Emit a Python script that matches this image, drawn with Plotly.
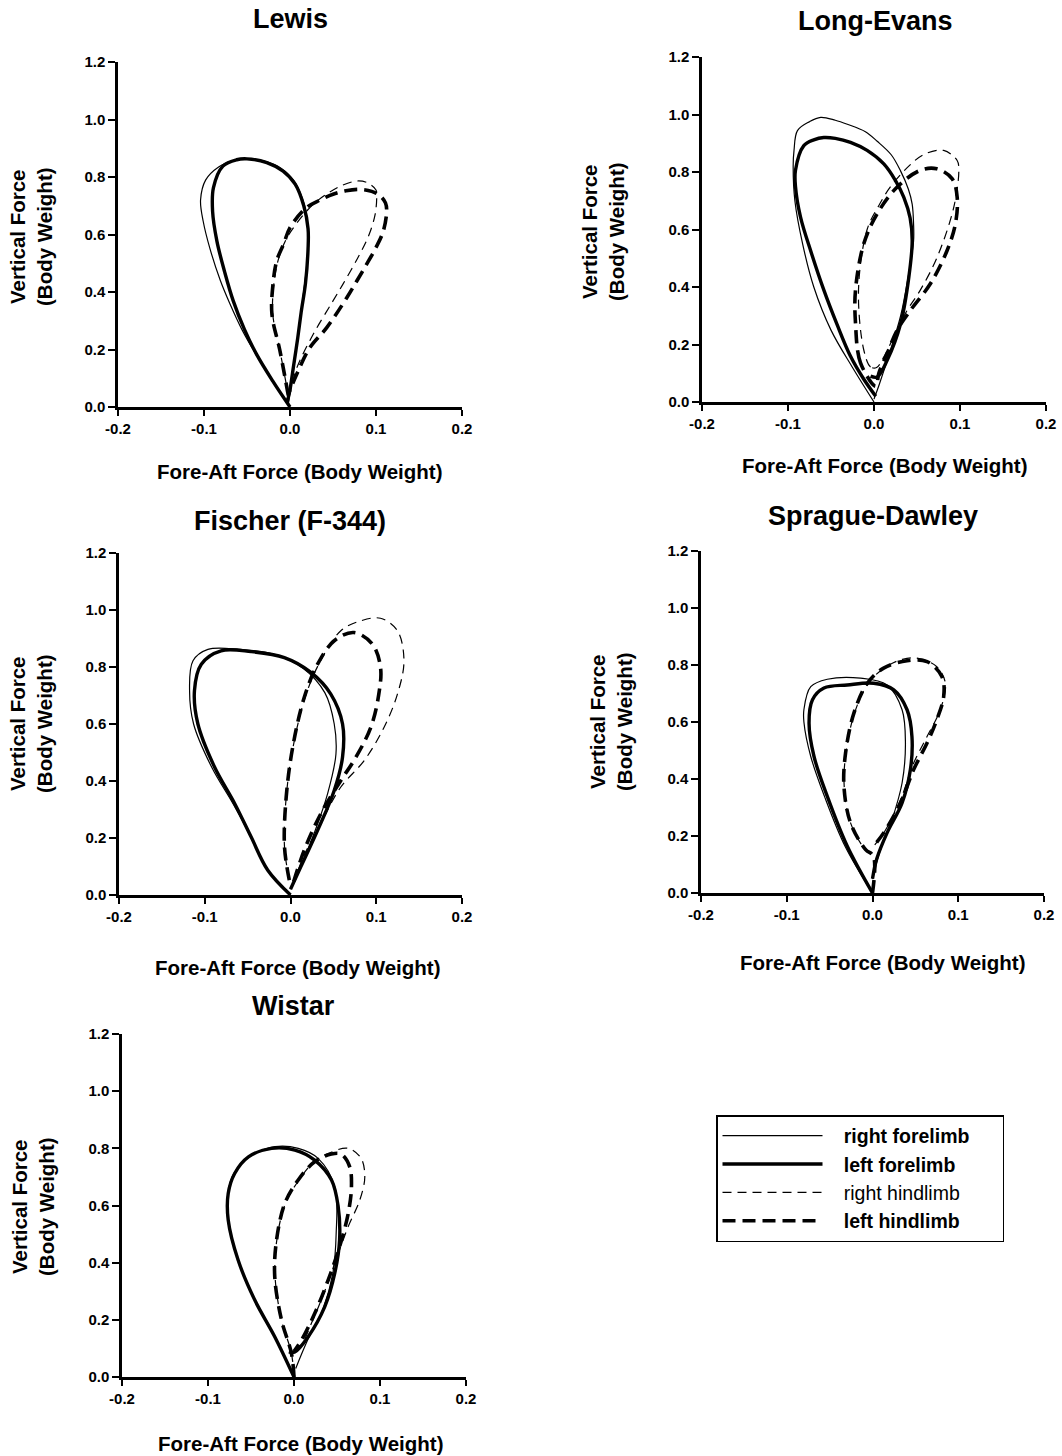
import plotly.graph_objects as go

W, H = 1062, 1456

strains = ["Lewis", "Long-Evans", "Fischer (F-344)", "Sprague-Dawley", "Wistar"]
x_ticks = [-0.2, -0.1, 0.0, 0.1, 0.2]
x_tick_labels = ["-0.2", "-0.1", "0.0", "0.1", "0.2"]
y_ticks = [0.0, 0.2, 0.4, 0.6, 0.8, 1.0, 1.2]
y_tick_labels = ["0.0", "0.2", "0.4", "0.6", "0.8", "1.0", "1.2"]
limb_names = ["right forelimb", "left forelimb", "right hindlimb", "left hindlimb"]

# ---------------- Lewis ----------------
lewis_rf_x = [0.0, -0.02, -0.04, -0.056, -0.07, -0.081, -0.093, -0.101, -0.104, -0.098, -0.083, -0.065, -0.05, -0.03, -0.01, 0.005, 0.015, 0.02, 0.021, 0.019, 0.015, 0.01, 0.005, 0.0, -0.002]
lewis_rf_y = [0.0, 0.09, 0.185, 0.27, 0.36, 0.44, 0.55, 0.647, 0.72, 0.79, 0.835, 0.858, 0.863, 0.855, 0.83, 0.785, 0.72, 0.65, 0.577, 0.48, 0.38, 0.26, 0.15, 0.05, 0.01]
lewis_lf_x = [0.0, -0.02, -0.039, -0.053, -0.066, -0.076, -0.085, -0.09, -0.089, -0.078, -0.062, -0.05, -0.027, -0.008, 0.006, 0.016, 0.021, 0.021, 0.018, 0.013, 0.009, 0.004, 0.0, -0.003]
lewis_lf_y = [0.0, 0.09, 0.184, 0.27, 0.369, 0.47, 0.577, 0.68, 0.763, 0.838, 0.86, 0.863, 0.85, 0.82, 0.775, 0.7, 0.62, 0.55, 0.43, 0.33, 0.24, 0.14, 0.06, 0.02]
lewis_rh_x = [-0.002, -0.005, -0.012, -0.02, -0.019, -0.014, -0.005, 0.008, 0.027, 0.045, 0.06, 0.0775, 0.09, 0.1, 0.1008, 0.099, 0.092, 0.081, 0.066, 0.05, 0.027, 0.008, -0.002]
lewis_rh_y = [0.04, 0.09, 0.2, 0.322, 0.42, 0.508, 0.58, 0.64, 0.705, 0.745, 0.77, 0.786, 0.78, 0.755, 0.734, 0.67, 0.6, 0.531, 0.45, 0.369, 0.253, 0.137, 0.04]
lewis_lh_x = [-0.002, -0.005, -0.012, -0.021, -0.02, -0.0155, -0.007, 0.0, 0.019, 0.035, 0.05, 0.065, 0.081, 0.095, 0.105, 0.111, 0.1124, 0.1085, 0.1, 0.089, 0.078, 0.066, 0.0427, 0.023, 0.0078, -0.002]
lewis_lh_y = [0.04, 0.09, 0.2, 0.322, 0.42, 0.508, 0.57, 0.624, 0.693, 0.72, 0.74, 0.752, 0.757, 0.75, 0.734, 0.71, 0.682, 0.612, 0.555, 0.496, 0.44, 0.38, 0.276, 0.206, 0.114, 0.044]

# ---------------- Long-Evans ----------------
le_rf_x = [0.0, -0.025, -0.05, -0.07, -0.083, -0.092, -0.094, -0.093, -0.089, -0.075, -0.062, -0.045, -0.031, -0.01, 0.0037, 0.02, 0.031, 0.04, 0.0444, 0.046, 0.046, 0.04, 0.031, 0.018, 0.006, 0.0]
le_rf_y = [0.0, 0.12, 0.25, 0.4, 0.55, 0.7, 0.82, 0.875, 0.944, 0.975, 0.99, 0.98, 0.966, 0.94, 0.907, 0.86, 0.803, 0.74, 0.688, 0.62, 0.56, 0.44, 0.3, 0.17, 0.06, 0.01]
le_lf_x = [0.002, -0.012, -0.0273, -0.043, -0.0584, -0.073, -0.0855, -0.0913, -0.0913, -0.0816, -0.07, -0.0584, -0.045, -0.0273, -0.008, 0.0114, 0.025, 0.0347, 0.042, 0.0444, 0.0405, 0.031, 0.0153, 0.0037, -0.004]
le_lf_y = [0.02, 0.08, 0.159, 0.27, 0.39, 0.52, 0.644, 0.75, 0.806, 0.892, 0.912, 0.92, 0.917, 0.903, 0.875, 0.828, 0.77, 0.712, 0.64, 0.562, 0.434, 0.273, 0.145, 0.087, 0.09]
le_rh_x = [0.003, -0.004, -0.0118, -0.018, -0.008, 0.005, 0.019, 0.0386, 0.058, 0.081, 0.0967, 0.0986, 0.0928, 0.0735, 0.054, 0.0386, 0.025, 0.012, 0.003]
le_rh_y = [0.12, 0.122, 0.18, 0.39, 0.6, 0.68, 0.748, 0.815, 0.861, 0.875, 0.84, 0.806, 0.678, 0.504, 0.39, 0.319, 0.24, 0.16, 0.12]
le_lh_x = [0.002, -0.0157, -0.0215, -0.0215, -0.0118, 0.0037, 0.027, 0.054, 0.073, 0.091, 0.0967, 0.0947, 0.085, 0.0657, 0.0424, 0.027, 0.0153, 0.0056, 0.002]
le_lh_y = [0.055, 0.136, 0.274, 0.39, 0.551, 0.655, 0.748, 0.806, 0.811, 0.776, 0.712, 0.62, 0.527, 0.412, 0.319, 0.25, 0.169, 0.1, 0.055]

# ---------------- Fischer (F-344) ----------------
f_rf_x = [0.0, -0.0265, -0.046, -0.067, -0.092, -0.113, -0.1177, -0.1137, -0.0963, -0.06, -0.02, 0.015, 0.04, 0.051, 0.053, 0.0433, 0.028, 0.012, 0.0]
f_rf_y = [0.0, 0.087, 0.204, 0.32, 0.449, 0.6, 0.717, 0.822, 0.862, 0.862, 0.845, 0.795, 0.71, 0.6, 0.495, 0.356, 0.22, 0.1, 0.02]
f_lf_x = [0.0, -0.0265, -0.046, -0.065, -0.0886, -0.108, -0.112, -0.104, -0.081, -0.046, -0.0072, 0.0238, 0.047, 0.0607, 0.0607, 0.051, 0.0316, 0.012, 0.0]
f_lf_y = [0.0, 0.087, 0.204, 0.32, 0.449, 0.6, 0.717, 0.81, 0.857, 0.854, 0.833, 0.781, 0.705, 0.6, 0.484, 0.367, 0.227, 0.099, 0.02]
f_rh_x = [-0.0014, -0.007, -0.005, 0.003, 0.017, 0.033, 0.0587, 0.082, 0.105, 0.1247, 0.1323, 0.1247, 0.109, 0.086, 0.0587, 0.035, 0.016, 0.002]
f_rh_y = [0.052, 0.169, 0.344, 0.519, 0.693, 0.81, 0.927, 0.962, 0.971, 0.927, 0.822, 0.705, 0.588, 0.472, 0.379, 0.25, 0.14, 0.03]
f_lh_x = [-0.0014, -0.007, -0.005, 0.0026, 0.016, 0.0316, 0.051, 0.074, 0.0956, 0.105, 0.103, 0.0936, 0.074, 0.0587, 0.0355, 0.016, 0.002]
f_lh_y = [0.052, 0.169, 0.344, 0.519, 0.693, 0.81, 0.892, 0.921, 0.88, 0.798, 0.705, 0.588, 0.472, 0.402, 0.286, 0.157, 0.03]

# ---------------- Sprague-Dawley ----------------
sd_rf_x = [0.0, -0.032, -0.056, -0.072, -0.08, -0.08, -0.072, -0.0527, -0.014, 0.017, 0.0345, 0.0384, 0.0345, 0.022, 0.008, 0.0]
sd_rf_y = [0.0, 0.164, 0.339, 0.479, 0.6, 0.643, 0.724, 0.75, 0.754, 0.73, 0.643, 0.526, 0.386, 0.25, 0.14, 0.05]
sd_lf_x = [0.0, -0.0294, -0.0527, -0.0682, -0.074, -0.07, -0.0566, -0.0294, 0.0015, 0.0248, 0.0403, 0.046, 0.0442, 0.0345, 0.017, 0.005, 0.0]
sd_lf_y = [0.0, 0.164, 0.339, 0.479, 0.596, 0.678, 0.719, 0.73, 0.736, 0.713, 0.643, 0.549, 0.433, 0.316, 0.211, 0.12, 0.05]
sd_rh_x = [0.0, -0.008, -0.0256, -0.033, -0.031, -0.021, -0.005, 0.015, 0.035, 0.052, 0.075, 0.085, 0.079, 0.0636, 0.048, 0.033, 0.014, 0.0]
sd_rh_y = [0.14, 0.152, 0.246, 0.374, 0.491, 0.631, 0.736, 0.792, 0.82, 0.824, 0.794, 0.736, 0.643, 0.549, 0.456, 0.33, 0.215, 0.16]
sd_lh_x = [0.0, 0.001, -0.008, -0.0256, -0.0333, -0.0314, -0.0217, -0.006, 0.013, 0.0403, 0.0636, 0.081, 0.083, 0.075, 0.0636, 0.048, 0.0326, 0.013, 0.0]
sd_lh_y = [0.0, 0.13, 0.152, 0.246, 0.374, 0.491, 0.631, 0.736, 0.789, 0.815, 0.812, 0.759, 0.689, 0.608, 0.526, 0.433, 0.316, 0.211, 0.16]

# ---------------- Wistar ----------------
w_rf_x = [0.0, -0.0224, -0.0456, -0.065, -0.077, -0.077, -0.07, -0.052, -0.022, 0.005, 0.028, 0.0474, 0.049, 0.045, 0.034, 0.016, 0.002]
w_rf_y = [0.0, 0.141, 0.269, 0.409, 0.549, 0.642, 0.712, 0.77, 0.806, 0.8, 0.765, 0.665, 0.5, 0.36, 0.24, 0.13, 0.03]
w_lf_x = [0.0, -0.0224, -0.0456, -0.065, -0.0765, -0.0765, -0.069, -0.053, -0.026, 0.001, 0.024, 0.0436, 0.0514, 0.053, 0.0474, 0.0358, 0.0165, 0.001, -0.006]
w_lf_y = [0.0, 0.141, 0.269, 0.409, 0.549, 0.642, 0.712, 0.77, 0.8, 0.794, 0.759, 0.689, 0.596, 0.479, 0.363, 0.246, 0.141, 0.088, 0.088]
w_rh_x = [0.0, -0.003, -0.0145, -0.022, -0.02, -0.01, 0.006, 0.024, 0.0397, 0.063, 0.078, 0.0823, 0.0765, 0.063, 0.05, 0.037, 0.022, 0.008, 0.0]
w_rh_y = [0.0, 0.083, 0.199, 0.351, 0.479, 0.607, 0.69, 0.755, 0.782, 0.8, 0.765, 0.7, 0.619, 0.526, 0.42, 0.31, 0.2, 0.11, 0.09]
w_lh_x = [0.0, -0.003, -0.0145, -0.0224, -0.0203, -0.0107, 0.0049, 0.024, 0.0436, 0.0552, 0.0648, 0.0668, 0.063, 0.053, 0.0397, 0.0242, 0.0087, 0.0]
w_lh_y = [0.0, 0.083, 0.199, 0.351, 0.479, 0.607, 0.689, 0.753, 0.78, 0.779, 0.735, 0.665, 0.572, 0.456, 0.339, 0.223, 0.129, 0.09]

curves = [
    [(lewis_rf_x, lewis_rf_y), (lewis_lf_x, lewis_lf_y), (lewis_rh_x, lewis_rh_y), (lewis_lh_x, lewis_lh_y)],
    [(le_rf_x, le_rf_y), (le_lf_x, le_lf_y), (le_rh_x, le_rh_y), (le_lh_x, le_lh_y)],
    [(f_rf_x, f_rf_y), (f_lf_x, f_lf_y), (f_rh_x, f_rh_y), (f_lh_x, f_lh_y)],
    [(sd_rf_x, sd_rf_y), (sd_lf_x, sd_lf_y), (sd_rh_x, sd_rh_y), (sd_lh_x, sd_lh_y)],
    [(w_rf_x, w_rf_y), (w_lf_x, w_lf_y), (w_rh_x, w_rh_y), (w_lh_x, w_lh_y)],
]

# ---- layout geometry (pixels) ----
# (left, right, top(1.2), bottom(0.0))
panels_px = [
    (118, 462, 62, 407),
    (702, 1046, 57, 402),
    (119, 462, 553, 895),
    (701, 1044, 551, 893),
    (122, 466, 1034, 1377),
]
title_pos = [(290, 19), (875, 21), (290, 521), (873, 516), (293, 1006)]
xtitle_pos = [(299, 472), (884, 466), (297, 967), (882, 962), (300, 1443)]
ytitle_pos = [(31, 237), (603, 232), (31, 724), (611, 722), (33, 1207)]

styles = [
    dict(width=1.2, dash="solid"),
    dict(width=3.4, dash="solid"),
    dict(width=1.2, dash="9px,6px"),
    dict(width=3.6, dash="13px,7px"),
]
pad = "&nbsp;&nbsp;&nbsp;"
tail = "&nbsp;&nbsp;&nbsp;&nbsp;&nbsp;"
legend_names = [pad + "<b>right forelimb</b>" + tail, pad + "<b>left forelimb</b>",
                pad + "right hindlimb", pad + "<b>left hindlimb</b>"]

FONT = "Liberation Sans, Arial, Helvetica, sans-serif"

fig = go.Figure()
layout = dict(
    width=W, height=H,
    margin=dict(l=0, r=0, t=0, b=0, pad=0, autoexpand=False),
    paper_bgcolor="white", plot_bgcolor="white",
    font=dict(family=FONT, color="black"),
    showlegend=True,
    annotations=[],
)

for i, (name, crv) in enumerate(zip(strains, curves)):
    xa = "x" if i == 0 else f"x{i+1}"
    ya = "y" if i == 0 else f"y{i+1}"
    for j, (cx, cy) in enumerate(crv):
        fig.add_trace(go.Scatter(
            x=cx, y=cy, mode="lines", xaxis=xa, yaxis=ya,
            line=dict(color="black", shape="spline", smoothing=1.0, **styles[j]),
            name=legend_names[j], legendgroup=limb_names[j],
            showlegend=(i == 0), hoverinfo="skip",
        ))
    l, r, t, b = panels_px[i]
    axkey = "xaxis" if i == 0 else f"xaxis{i+1}"
    aykey = "yaxis" if i == 0 else f"yaxis{i+1}"
    layout[axkey] = dict(
        domain=[l / W, r / W], anchor=ya, range=[-0.2, 0.2],
        tickmode="array", tickvals=x_ticks, ticktext=x_tick_labels,
        ticks="outside", ticklen=6, tickwidth=2, tickcolor="black",
        showline=True, linecolor="black", linewidth=2.5,
        showgrid=False, zeroline=False, automargin=False,
        tickfont=dict(size=15, family=FONT, weight="bold"),
    )
    layout[aykey] = dict(
        domain=[1 - b / H, 1 - t / H], anchor=xa, range=[0, 1.2],
        tickmode="array", tickvals=y_ticks, ticktext=y_tick_labels,
        ticks="outside", ticklen=7, tickwidth=2, tickcolor="black",
        showline=True, linecolor="black", linewidth=2.5,
        showgrid=False, zeroline=False, automargin=False,
        tickfont=dict(size=15, family=FONT, weight="bold"),
    )
    tx, ty = title_pos[i]
    layout["annotations"].append(dict(
        text=f"<b>{name}</b>", x=tx / W, y=1 - ty / H, xref="paper", yref="paper",
        xanchor="center", yanchor="middle", showarrow=False,
        font=dict(size=27, family=FONT)))
    xx, xy = xtitle_pos[i]
    layout["annotations"].append(dict(
        text="<b>Fore-Aft Force (Body Weight)</b>", x=xx / W, y=1 - xy / H,
        xref="paper", yref="paper", xanchor="center", yanchor="middle",
        showarrow=False, font=dict(size=20.5, family=FONT)))
    yx, yy = ytitle_pos[i]
    layout["annotations"].append(dict(
        text="<b>Vertical Force<br>(Body Weight)</b>", x=yx / W, y=1 - yy / H,
        xref="paper", yref="paper", xanchor="center", yanchor="middle",
        textangle=-90, showarrow=False, font=dict(size=20.5, family=FONT)))

layout["legend"] = dict(
    x=716 / W, y=1 - 1115 / H, xanchor="left", yanchor="top",
    bordercolor="black", borderwidth=1.5, bgcolor="white",
    font=dict(size=19.5, family=FONT, color="black"),
    itemwidth=100, tracegroupgap=0,
)

fig.update_layout(**layout)
fig.write_html("out.html",
               config={"displayModeBar": False},
               post_script="document.body.style.margin='0px';document.body.style.padding='0px';")
